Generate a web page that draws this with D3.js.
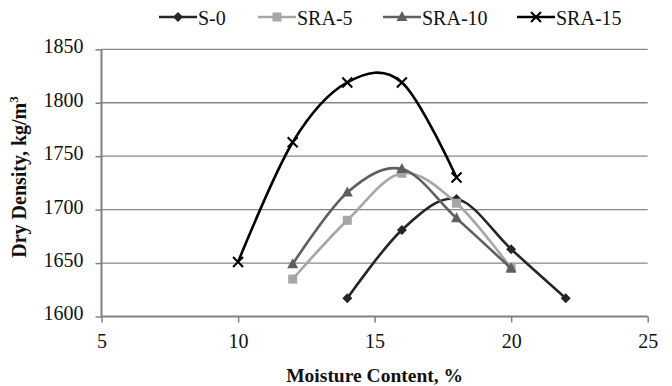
<!DOCTYPE html>
<html><head><meta charset="utf-8">
<script src="https://cdn.jsdelivr.net/npm/d3@7"></script>
<style>html,body{margin:0;padding:0;background:#fff;}svg{display:block;} svg text{font-family:"Liberation Serif","Times New Roman",serif !important;}</style>
</head><body>
<svg id="chart" width="672" height="386"></svg>
<script>
const moisture = [[14,16,18,20,22],[12,14,16,18,20],[12,14,16,18,20],[10,12,14,16,18]];
const seriesNames = ["S-0","SRA-5","SRA-10","SRA-15"];
const s0 = [1617,1681,1710,1663,1617];
const sra5 = [1635,1690,1734,1706,1645];
const sra10 = [1649,1716,1738,1692,1645];
const sra15 = [1651,1763,1819,1819,1730];
const xTicks = [5,10,15,20,25];
const yTicks = [1600,1650,1700,1750,1800,1850];

const values = [s0,sra5,sra10,sra15];
const colors = ["#262626","#a6a6a6","#5f5f5f","#000000"];
const shapes = ["diamond","square","triangle","cross"];

const svg = d3.select("#chart");
const pL=101.5, pR=647.7, pT=49.3, pB=316.5;
const x = d3.scaleLinear().domain([5,25]).range([pL,pR]);
const y = d3.scaleLinear().domain([1600,1850]).range([pB,pT]);

// gridlines
svg.append("g").selectAll("line").data(yTicks.filter(d=>d>1600)).join("line")
  .attr("x1",pL).attr("x2",pR).attr("y1",d=>y(d)).attr("y2",d=>y(d))
  .attr("stroke","#878787").attr("stroke-width",1.3);

// axes
const gx = svg.append("g").attr("transform",`translate(0,${pB})`)
  .call(d3.axisBottom(x).tickValues(xTicks).tickSize(6).tickPadding(11).tickFormat(d3.format("d")));
const gy = svg.append("g").attr("transform",`translate(${pL},0)`)
  .call(d3.axisLeft(y).tickValues(yTicks).tickSize(6).tickPadding(12).tickFormat(d3.format("d")));
[gx,gy].forEach(g=>{
  g.attr("font-family",null);
  g.select(".domain").attr("stroke","#808080").attr("stroke-width",2);
  g.selectAll(".tick line").attr("stroke","#808080").attr("stroke-width",1.5);
  g.selectAll("text").attr("font-size",20).attr("fill","#111");
});
gy.select(".domain").attr("d",`M0,${pT}V${pB}`);
gx.select(".domain").attr("d",`M${pL},0H${pR}`);
gy.selectAll(".tick text").attr("dy","0.17em");

function marker(g, shape, color){
  if(shape==="diamond"){
    g.append("path").attr("d","M0,-5L5,0L0,5L-5,0Z").attr("fill",color);
  } else if(shape==="square"){
    g.append("rect").attr("x",-4.5).attr("y",-4.5).attr("width",9).attr("height",9).attr("fill",color);
  } else if(shape==="triangle"){
    g.append("path").attr("d","M0,-6L5.5,4L-5.5,4Z").attr("fill",color);
  } else {
    g.append("path").attr("d","M-5,-5L5,5M-5,5L5,-5").attr("stroke",color).attr("stroke-width",2).attr("fill","none");
  }
}

const line = d3.line().x(d=>x(d[0])).y(d=>y(d[1])).curve(d3.curveCatmullRom.alpha(0));
values.forEach((vals,i)=>{
  const pts = vals.map((v,j)=>[moisture[i][j],v]);
  const g = svg.append("g");
  g.append("path").attr("d",line(pts)).attr("fill","none").attr("stroke",colors[i]).attr("stroke-width",2.6);
  pts.forEach(p=>{
    const m = g.append("g").attr("transform",`translate(${x(p[0])},${y(p[1])})`);
    marker(m, shapes[i], colors[i]);
  });
});

// legend
const legX = [159,258,383,517];
seriesNames.forEach((n,i)=>{
  const g = svg.append("g").attr("transform",`translate(${legX[i]},17)`);
  g.append("line").attr("x1",0).attr("x2",38).attr("stroke",colors[i]).attr("stroke-width",2.6);
  const m = g.append("g").attr("transform","translate(19,0)");
  marker(m, shapes[i], colors[i]);
  g.append("text").attr("x",39).attr("y",8).attr("font-size",20).attr("fill","#111").text(n);
});

// axis titles
svg.append("text").attr("x",(pL+pR)/2).attr("y",381.5).attr("text-anchor","middle")
  .attr("font-size",19.5).attr("font-weight","bold").attr("fill","#111").text("Moisture Content, %");
const yt = svg.append("text").attr("transform","translate(26,177) rotate(-90)").attr("text-anchor","middle")
  .attr("font-size",20).attr("font-weight","bold").attr("fill","#111");
yt.append("tspan").text("Dry Density, kg/m");
yt.append("tspan").attr("font-size",13).attr("dy",-8).text("3");
</script>
</body></html>
